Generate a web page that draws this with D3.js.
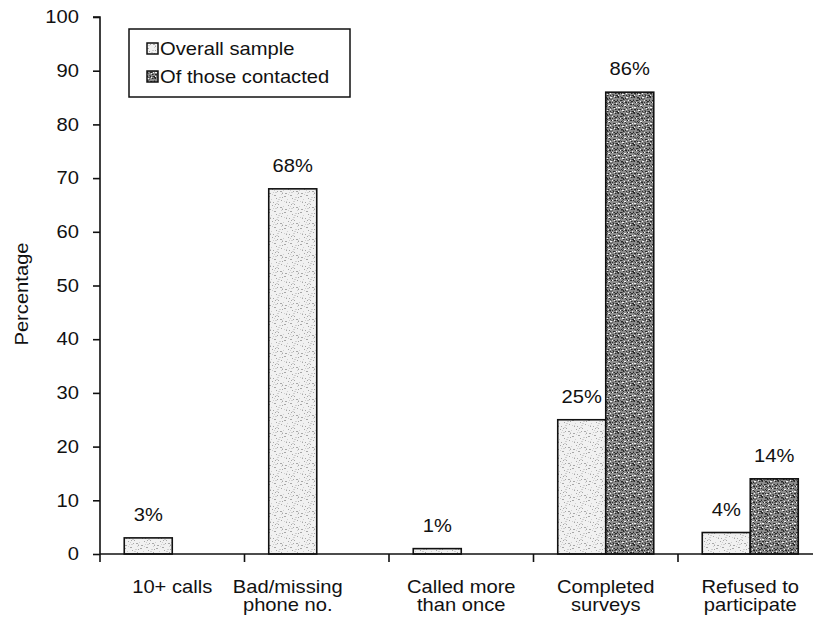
<!DOCTYPE html>
<html><head><meta charset="utf-8">
<script src="https://cdn.jsdelivr.net/npm/d3@7"></script>
<style>
body{margin:0;background:#fff;}
text{font-family:"Liberation Sans",Arial,Helvetica,sans-serif;fill:#111;}
</style></head>
<body><svg id="c" width="813" height="621"></svg>
<script>
const categories = ["10+ calls", "Bad/missing\nphone no.", "Called more\nthan once", "Completed\nsurveys", "Refused to\nparticipate"];
const series = ["Overall sample", "Of those contacted"];
const overallValues = [3, 68, 1, 25, 4];
const contactedValues = [null, null, null, 86, 14];
const yTicks = [0, 10, 20, 30, 40, 50, 60, 70, 80, 90, 100];

const SX = 1.12;      // horizontal stretch of the scanned lettering
const FS = 18;
const svg = d3.select("#c");
const left = 100, right = 822.5, y0px = 554, y100px = 17;

// speckled textures
const defs = svg.append("defs");
function speckle(id, bg, specks) {
  const p = defs.append("pattern").attr("id", id).attr("patternUnits", "userSpaceOnUse")
    .attr("width", 16).attr("height", 16);
  p.append("rect").attr("width", 16).attr("height", 16).attr("fill", bg);
  specks.forEach(([col, n, a, b]) => {
    for (let i = 0; i < n; i++) {
      const x = (i * a + 3) % 16, yy = (i * b + Math.floor(i / 4) * 3) % 16;
      p.append("rect").attr("x", x).attr("y", yy).attr("width", 1 + (i % 3 === 0 ? 1 : 0)).attr("height", 1).attr("fill", col);
    }
  });
}
speckle("pLight", "#f1f1f1", [["#a8a8a8", 18, 7, 5], ["#d0d0d0", 14, 11, 9]]);
speckle("pDark", "#8c8c8c", [["#2a2a2a", 46, 7, 5], ["#f4f4f4", 30, 5, 11], ["#5a5a5a", 30, 13, 3]]);

const x0 = d3.scaleBand().domain(categories).range([left, right]).paddingInner(0).paddingOuter(0);
const x1 = d3.scaleBand().domain(series).range([0, x0.bandwidth()]).paddingOuter(0.505).paddingInner(0);
const y = d3.scaleLinear().domain([0, 100]).range([y0px, y100px]);

// y axis
const ya = svg.append("g").attr("transform", `translate(${left},0)`)
  .call(d3.axisLeft(y).tickValues(yTicks).tickSize(7).tickPadding(14));
ya.select(".domain").attr("stroke", "#111").attr("stroke-width", 1.6).attr("d", `M-7,${y(100)}H0V${y(0)}`);
ya.selectAll(".tick line").attr("stroke", "#111").attr("stroke-width", 1.6);
ya.selectAll(".tick text").style("font-size", FS + "px").attr("fill", "#111")
  .attr("x", 0).attr("transform", `translate(-21,0) scale(${SX},1)`);

// bars
const data = categories.map((c, i) => ({c, vals: [overallValues[i], contactedValues[i]]}));
const g = svg.append("g");
data.forEach(d => {
  d.vals.forEach((v, j) => {
    if (v == null) return;
    const xx = x0(d.c) + x1(series[j]);
    g.append("rect").attr("x", xx).attr("y", y(v)).attr("width", x1.bandwidth()).attr("height", y(0) - y(v))
      .attr("fill", j === 0 ? "url(#pLight)" : "url(#pDark)").attr("stroke", "#111").attr("stroke-width", 1.6);
    g.append("text").attr("transform", `translate(${xx + x1.bandwidth() / 2},${y(v) - 17}) scale(${SX},1)`)
      .attr("text-anchor", "middle").style("font-size", FS + "px").text(v + "%");
  });
});

// x axis
const xa = svg.append("g").attr("transform", `translate(0,${y(0)})`)
  .call(d3.axisBottom(x0).tickSize(0).tickPadding(26));
xa.select(".domain").attr("stroke", "#111").attr("stroke-width", 1.6).attr("d", `M${left},0H813`);
xa.selectAll(".bt").data(categories).enter().append("line").attr("class", "bt")
  .attr("x1", d => x0(d)).attr("x2", d => x0(d)).attr("y1", 0).attr("y2", 8)
  .attr("stroke", "#111").attr("stroke-width", 1.6);
xa.selectAll(".tick text").each(function(d, i) {
  const t = d3.select(this);
  const lines = d.split("\n");
  const dx = i === 1 ? -29 : 0;
  t.text(null).style("font-size", FS + "px").attr("fill", "#111")
    .attr("transform", `translate(${dx},0) scale(${SX},1)`);
  lines.forEach((l, k) => t.append("tspan").attr("x", 0).attr("dy", k === 0 ? "0.71em" : "1.0em").text(l));
});

// y label
svg.append("text").attr("transform", `translate(28,294) rotate(-90) scale(${SX},1)`).attr("text-anchor", "middle")
  .style("font-size", FS + "px").text("Percentage");

// legend
const lg = svg.append("g").attr("transform", "translate(129,29)");
lg.append("rect").attr("width", 221).attr("height", 68).attr("fill", "#fff").attr("stroke", "#111").attr("stroke-width", 1.5);
series.forEach((s, i) => {
  lg.append("rect").attr("x", 18).attr("y", 14 + i * 28).attr("width", 11).attr("height", 11)
    .attr("fill", i === 0 ? "url(#pLight)" : "url(#pDark)").attr("stroke", "#111").attr("stroke-width", 1.5);
  lg.append("text").attr("transform", `translate(31,${26 + i * 28}) scale(${SX},1)`).style("font-size", FS + "px").text(s);
});
</script></body></html>
